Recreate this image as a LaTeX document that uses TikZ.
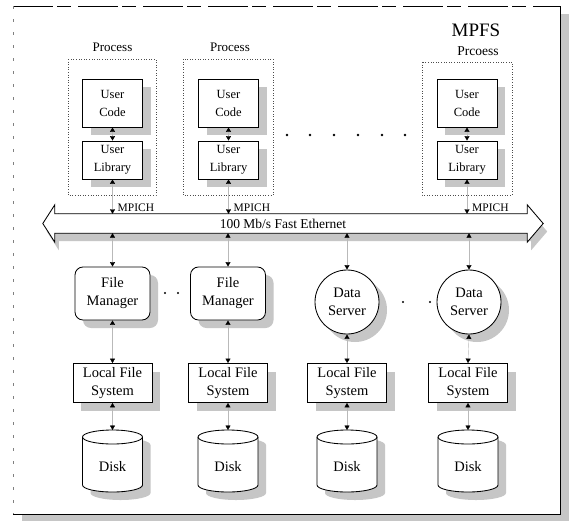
\documentclass[tikz,border=0pt]{standalone}
\usepackage{fontspec}
\setmainfont{Liberation Serif}
\usetikzlibrary{shadows,arrows.meta,calc}

\begin{document}
\begin{tikzpicture}[x=1pt,y=-1pt,
  shadowed/.style={drop shadow={shadow xshift=8pt,shadow yshift=-8pt,fill=gray!45,opacity=1}},
  outline/.style={draw,line width=0.85pt,fill=white},
  ubox/.style={outline,shadowed,align=center,inner sep=0pt,
    font=\fontsize{12.5}{18}\selectfont,minimum width=60pt},
  lbox/.style={outline,shadowed,align=center,inner sep=0pt,
    font=\fontsize{14.5}{18}\selectfont},
  container/.style={draw=gray!60!black,line width=0.6pt,dotted},
  conn/.style={{Triangle[width=5pt,length=4.5pt,color=black]}-{Triangle[width=5pt,length=4.5pt,color=black]},
    line width=0.4pt,draw=gray!55},
  ptitle/.style={font=\fontsize{13}{15}\selectfont},
  mpich/.style={font=\fontsize{11.5}{13}\selectfont,anchor=base west,inner sep=0pt},
  dot/.style={fill=black}
]
\useasboundingbox (0,0) rectangle (572,522);

% outer frame with its shadow band
\fill[gray!45] (22,14) rectangle (569,521);
\fill[white] (13,6) rectangle (560,514);
\draw[line width=0.8pt] (560,6) -- (560,514) -- (13,514);
\draw[line width=0.8pt,dash pattern=on 40pt off 4pt on 14pt off 7pt] (13,6) -- (560,6);
\draw[line width=0.5pt,gray,dash pattern=on 3pt off 10pt] (13,6) -- (13,514);

% process containers
\draw[container] (68,59) rectangle (156,195);
\draw[container] (183,59) rectangle (273,195);
\draw[container] (422,62) rectangle (512,195);

\node[ptitle] (pt1) at (112.5,47) {Process};
\node[ptitle] (pt2) at (230,47) {Process};
\node[font=\fontsize{19}{21}\selectfont] (mpfs) at (476,30) {MPFS};
\node[font=\fontsize{13.5}{15}\selectfont] (pt3) at (478,51) {Prcoess};

% user code / user library stacks
\foreach \i/\cx in {1/112.5,2/228.5,3/467}{
  \node[ubox,minimum height=48pt] (uc\i) at (\cx,103) {User\\Code};
  \node[ubox,minimum height=38pt] (ul\i) at (\cx,160) {User\\Library};
  \draw[conn] (uc\i.south) -- (ul\i.north);
}

% ellipsis between the processes
\foreach \x in {287,310,334,358,382,405}{
  \fill[dot] (\x,135) circle (1.3pt);
}

% network
\node[minimum width=472pt,minimum height=19pt,inner sep=0pt] (eth) at (291,223.5) {};
\draw[line width=0.85pt,fill=white,
      drop shadow={shadow xshift=4pt,shadow yshift=-8pt,fill=gray!45,opacity=1}]
  (eth.north west) -- (eth.north east) -- ($(eth.north east)+(0,-9)$)
  -- ($(eth.east)+(16,0)$) -- ($(eth.south east)+(0,9)$) -- (eth.south east)
  -- (eth.south west) -- ($(eth.south west)+(0,9)$) -- ($(eth.west)+(-12,0)$)
  -- ($(eth.north west)+(0,-9)$) -- cycle;
\node[font=\fontsize{13.5}{15}\selectfont] (ethtxt) at (283,224) {100 Mb/s Fast Ethernet};

\foreach \i in {1,2,3}{
  \draw[conn] (ul\i.south) -- (ul\i.south |- eth.north);
  \node[mpich] (mp\i) at ($(ul\i.south |- eth.north)+(5,-2.5)$) {MPICH};
}

% file managers and data servers
\node[lbox,rounded corners=8pt,minimum width=75pt,minimum height=53pt] (fm1) at (112.5,293.5) {File\\Manager};
\node[lbox,rounded corners=8pt,minimum width=75pt,minimum height=53pt] (fm2) at (228,293.5) {File\\Manager};
\node[lbox,circle,minimum size=64pt] (ds1) at (347,302) {Data\\Server};
\node[lbox,circle,minimum size=64pt] (ds2) at (469,302) {Data\\Server};

\fill[dot] (165,293) circle (1.2pt);
\fill[dot] (178,293) circle (1.2pt);
\fill[dot] (403,302) circle (1.2pt);
\fill[dot] (430,302) circle (1.2pt);

% local file systems
\foreach \i/\cx in {1/112.5,2/228,3/347,4/468}{
  \node[lbox,minimum width=79pt,minimum height=39pt] (lfs\i) at (\cx,383) {Local File\\System};
}

\draw[conn] (fm1.north |- eth.south) -- (fm1.north);
\draw[conn] (fm2.north |- eth.south) -- (fm2.north);
\draw[conn] (ds1.north |- eth.south) -- (ds1.north);
\draw[conn] (ds2.north |- eth.south) -- (ds2.north);
\draw[conn] (fm1.south) -- (lfs1.north);
\draw[conn] (fm2.south) -- (lfs2.north);
\draw[conn] (ds1.south) -- (ds1.south |- lfs3.north);
\draw[conn] (ds2.south) -- (lfs4.north);

% disks
\foreach \i/\cx in {1/112.5,2/228,3/347,4/468}{
  \draw[outline,shadowed]
    ({\cx-30},437) -- ({\cx-30},485)
    .. controls ({\cx-30},488.87) and ({\cx-16.57},492) .. (\cx,492)
    .. controls ({\cx+16.57},492) and ({\cx+30},488.87) .. ({\cx+30},485)
    -- ({\cx+30},437)
    .. controls ({\cx+30},433.13) and ({\cx+16.57},430) .. (\cx,430)
    .. controls ({\cx-16.57},430) and ({\cx-30},433.13) .. ({\cx-30},437) -- cycle;
  \draw[line width=0.85pt]
    ({\cx-30},437) .. controls ({\cx-30},440.87) and ({\cx-16.57},444) .. (\cx,444)
    .. controls ({\cx+16.57},444) and ({\cx+30},440.87) .. ({\cx+30},437);
  \coordinate (dtop\i) at (\cx,430);
  \node[font=\fontsize{14.5}{16}\selectfont] (disk\i) at (\cx,467) {Disk};
  \draw[conn] (lfs\i.south) -- (dtop\i);
}
\end{tikzpicture}
\end{document}
